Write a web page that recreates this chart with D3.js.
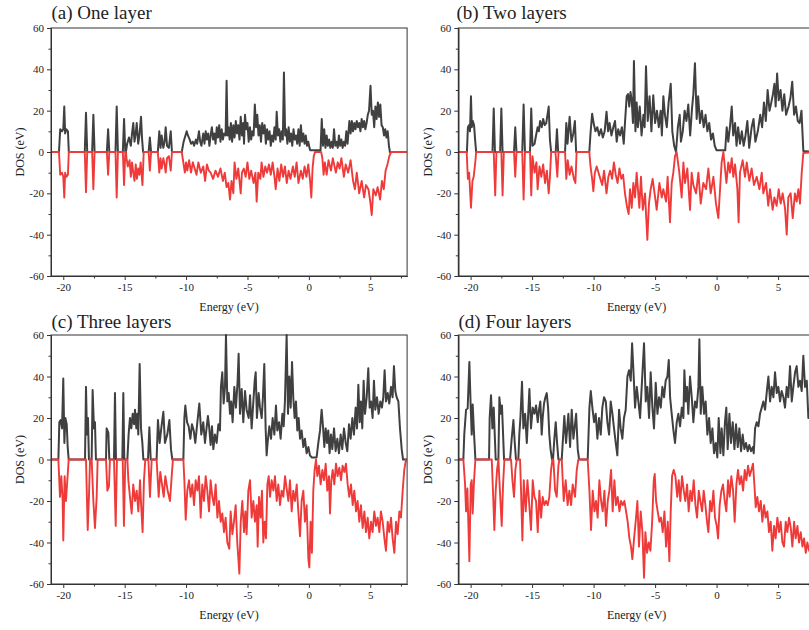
<!DOCTYPE html>
<html>
<head>
<meta charset="utf-8">
<script src="https://cdn.jsdelivr.net/npm/d3@7"></script>
<style>
  body { margin: 0; background: #fff; }
  svg { display: block; }
  text { font-family: "Liberation Serif", "Times New Roman", serif; fill: #222; }
</style>
</head>
<body>
<svg id="chart" width="809" height="630"></svg>
<script>
// Spin-resolved DOS, [energy (eV), DOS] pairs. Spin up is positive, spin down negative.
const spinUpA = [[-21,0],[-20.35,0],[-20.25,11],[-20.1,10],[-20.0,11],[-19.92,22],[-19.85,9],[-19.75,11],[-19.62,10],[-19.55,0],
[-18.25,0],[-18.15,19],[-18.05,0],[-17.65,0],[-17.55,18],[-17.45,0],
[-16.45,0],[-16.35,11],[-16.25,0],
[-15.75,0],[-15.65,22],[-15.55,0],[-15.15,0],[-15.05,16],[-14.95,0],
[-14.9,0],[-14.8,4],[-14.65,7],[-14.5,3],[-14.4,9],[-14.3,14],[-14.2,5],[-14.1,9],[-14.02,14],[-13.9,4],[-13.8,8],[-13.67,17],[-13.58,6],[-13.5,0],
[-13.05,0],[-12.95,7],[-12.85,0],
[-12.3,0],[-12.18,10],[-12.08,2],[-11.99,8],[-11.85,2],[-11.75,5],[-11.66,12],[-11.55,3],[-11.4,2],[-11.25,10],[-11.15,0],
[-10.35,0],[-10.2,5],[-10.05,8],[-9.95,10],[-9.85,8],[-9.7,6],[-9.6,4],[-9.45,5],[-9.35,3],[-9.2,6],[-9.1,4],[-8.95,10],[-8.85,5],[-8.75,3],[-8.6,9],[-8.5,4],[-8.4,10],[-8.3,6],[-8.2,9],[-8.1,3],[-8.0,8],[-7.9,12],[-7.8,6],[-7.7,9],[-7.6,4],[-7.5,12],[-7.4,7],[-7.3,13],[-7.2,5],[-7.1,11],[-7.0,6],[-6.9,9],[-6.78,8],[-6.7,34.5],[-6.62,8],[-6.55,12],[-6.45,6],[-6.35,14],[-6.25,5],[-6.15,13],[-6.05,7],[-5.95,15],[-5.85,9],[-5.75,13],[-5.65,6],[-5.55,17],[-5.45,8],[-5.35,14],[-5.28,4],[-5.2,18],[-5.1,11],[-5.0,14],[-4.9,5],[-4.8,12],[-4.7,6],[-4.6,10],[-4.5,8],[-4.4,23],[-4.3,12],[-4.2,18],[-4.1,8],[-4.0,13],[-3.9,5],[-3.8,14],[-3.7,9],[-3.6,13],[-3.5,4],[-3.4,11],[-3.3,6],[-3.2,10],[-3.1,3],[-3.0,8],[-2.9,5],[-2.8,12],[-2.7,6],[-2.62,19.5],[-2.52,8],[-2.42,11],[-2.32,5],[-2.22,10],[-2.12,6],[-2.03,38.5],[-1.93,8],[-1.85,11],[-1.75,4],[-1.65,12],[-1.55,5],[-1.45,9],[-1.35,3],[-1.25,11],[-1.15,6],[-1.05,8],[-0.95,4],[-0.85,11],[-0.75,3],[-0.65,13],[-0.55,5],[-0.45,9],[-0.35,4],[-0.25,8],[-0.15,3],[-0.05,5],[0.05,2],[0.12,0.8],[0.95,0.8],[1.05,16],[1.15,3],[1.25,11],[1.35,2],[1.45,8],[1.55,3],[1.65,6],[1.75,2],[1.85,5],[1.95,2],[2.05,11],[2.15,3],[2.25,5],[2.35,2],[2.45,8],[2.55,3],[2.65,6],[2.75,2],[2.85,5],[2.95,3],[3.05,10],[3.15,4],[3.3,15],[3.4,9],[3.5,15],[3.6,10],[3.7,14],[3.8,11],[3.9,15],[4.0,12],[4.1,14],[4.2,10],[4.3,16],[4.4,12],[4.5,15],[4.6,11],[4.7,14],[4.8,18],[4.9,20],[5.02,32],[5.12,18],[5.22,20],[5.32,12],[5.42,22],[5.52,16],[5.62,24],[5.72,17],[5.82,23],[5.92,13],[6.02,12],[6.12,8],[6.22,11],[6.32,7],[6.42,10],[6.52,3],[6.6,0],[8,0]];

const spinDownA = [[-21,0],[-20.35,0],[-20.25,-11],[-20.1,-10],[-20.0,-12],[-19.92,-22],[-19.85,-10],[-19.75,-12],[-19.62,-11],[-19.55,0],
[-18.25,0],[-18.15,-19.5],[-18.05,0],[-17.65,0],[-17.55,-18],[-17.45,0],
[-16.45,0],[-16.35,-11],[-16.25,0],
[-15.75,0],[-15.65,-22],[-15.55,0],[-15.15,0],[-15.05,-16],[-14.95,0],
[-14.9,0],[-14.85,-3],[-14.75,-7],[-14.6,-4],[-14.5,-12],[-14.4,-5],[-14.3,-10],[-14.2,-14],[-14.1,-6],[-14.0,-13],[-13.9,-8],[-13.8,-11],[-13.7,-5],[-13.55,-16],[-13.45,0],
[-13.05,0],[-12.95,-9],[-12.85,0],
[-12.3,0],[-12.18,-10],[-12.08,-3],[-11.99,-8],[-11.85,-3],[-11.75,-6],[-11.66,-10],[-11.55,-3],[-11.4,-2],[-11.25,-9],[-11.15,0],
[-10.35,0],[-10.2,-6],[-10.1,-10],[-10.0,-5],[-9.9,-9],[-9.75,-4],[-9.6,-10],[-9.45,-5],[-9.3,-8],[-9.15,-11],[-9.0,-5],[-8.8,-10],[-8.6,-7],[-8.45,-14],[-8.3,-6],[-8.15,-9],[-8.0,-10],[-7.8,-13],[-7.6,-9],[-7.4,-12],[-7.2,-8],[-7.0,-14],[-6.85,-10],[-6.7,-17],[-6.56,-15],[-6.42,-23],[-6.3,-14],[-6.15,-20],[-6.05,-5],[-5.9,-13],[-5.75,-8],[-5.55,-20],[-5.45,-10],[-5.3,-8],[-5.15,-12],[-5.0,-5],[-4.85,-13],[-4.7,-9],[-4.5,-15],[-4.35,-10],[-4.25,-24],[-4.12,-10],[-3.95,-13],[-3.85,-5],[-3.7,-12],[-3.55,-7],[-3.4,-10],[-3.25,-6],[-3.1,-11],[-2.95,-5],[-2.8,-12],[-2.7,-18],[-2.55,-8],[-2.4,-14],[-2.25,-6],[-2.1,-12],[-1.95,-7],[-1.8,-15],[-1.65,-9],[-1.5,-13],[-1.3,-7],[-1.15,-12],[-1.0,-5],[-0.85,-15],[-0.65,-9],[-0.5,-13],[-0.35,-7],[-0.2,-12],[-0.05,-6],[0.1,-14],[0.2,-22],[0.3,-8],[0.4,-2],[0.5,0],[1.0,0],[1.1,-3],[1.2,-11],[1.3,-5],[1.45,-11],[1.6,-4],[1.8,-9],[1.95,-3],[2.2,-10],[2.35,-5],[2.5,-8],[2.65,-3],[2.85,-12],[3.0,-6],[3.2,-10],[3.4,-4],[3.6,-14],[3.75,-18],[3.9,-10],[4.1,-20],[4.3,-14],[4.5,-22],[4.65,-16],[4.85,-18],[5.0,-24],[5.12,-30.5],[5.25,-18],[5.45,-21],[5.6,-17],[5.8,-23],[5.95,-14],[6.1,-18],[6.25,-9],[6.4,-6],[6.55,-2],[6.7,0],[8,0]];

const spinUpB = [[-21,0],[-20.3,0],[-20.22,12],[-20.12,13],[-20.05,10],[-19.97,27],[-19.9,12],[-19.82,15],[-19.72,13],[-19.62,5],[-19.55,0],
[-18.22,0],[-18.12,21],[-18.02,0],[-17.6,0],[-17.5,21],[-17.4,0],
[-16.47,0],[-16.37,12],[-16.27,0],
[-15.8,0],[-15.69,23],[-15.58,0],[-15.17,0],[-15.07,21],[-14.97,3],
[-14.8,4],[-14.68,8],[-14.55,12],[-14.45,10],[-14.35,15],[-14.22,12],[-14.1,16],[-13.98,13],[-13.85,14],[-13.65,22],[-13.55,6],[-13.45,0],
[-13.08,0],[-12.98,11],[-12.88,0],
[-12.32,0],[-12.22,14],[-12.12,4],[-11.95,17],[-11.8,5],[-11.65,9],[-11.52,15],[-11.42,0],
[-10.35,0],[-10.25,9],[-10.12,18.5],[-10.0,14],[-9.85,10],[-9.7,12],[-9.55,8],[-9.4,11],[-9.25,7],[-9.1,10],[-8.95,19.5],[-8.82,10],[-8.7,14],[-8.55,8],[-8.4,12],[-8.26,15],[-8.12,5],[-8.0,11],[-7.85,8],[-7.7,12],[-7.55,4],[-7.45,14],[-7.31,27],[-7.2,28],[-7.1,22],[-7.0,29],[-6.9,25],[-6.8,14],[-6.72,44],[-6.6,10],[-6.5,24],[-6.4,12],[-6.25,22],[-6.1,8],[-5.95,18],[-5.85,12],[-5.74,41.5],[-5.6,15],[-5.45,27],[-5.3,10],[-5.15,27.5],[-5.0,14],[-4.85,20],[-4.7,12],[-4.55,20],[-4.45,8],[-4.33,27],[-4.2,18],[-4.05,12],[-3.9,24],[-3.73,33],[-3.6,10],[-3.45,3],[-3.3,0],[-3.15,12],[-3.0,18],[-2.9,5],[-2.75,10],[-2.6,20],[-2.45,15],[-2.3,23],[-2.15,8],[-2.0,21],[-1.89,28],[-1.76,43],[-1.62,16],[-1.5,27],[-1.35,14],[-1.2,20],[-1.05,12],[-0.9,18],[-0.75,10],[-0.6,14],[-0.45,6],[-0.3,9],[-0.15,3],[0.0,0.8],[0.7,0.8],[0.82,12],[0.95,5],[1.1,13],[1.23,22],[1.35,8],[1.5,14],[1.62,3],[1.75,12],[1.9,4],[2.05,10],[2.2,3],[2.35,8],[2.5,15],[2.65,2],[2.85,12],[3.0,16],[3.15,5],[3.35,10],[3.55,18],[3.7,12],[3.85,24],[4.0,15],[4.15,30],[4.3,20],[4.45,24],[4.58,28],[4.7,33],[4.8,22],[4.92,38],[5.05,25],[5.2,30],[5.35,20],[5.5,28],[5.65,18],[5.85,22],[6.0,26],[6.15,34],[6.3,18],[6.45,22],[6.6,15],[6.75,14],[6.9,20],[7.05,0.5],[8,0]];

const spinDownB = [[-21,0],[-20.32,0],[-20.22,-13],[-20.12,-10],[-19.97,-27],[-19.85,-14],[-19.75,-12],[-19.62,-5],[-19.55,0],
[-18.12,0],[-18.0,-21],[-17.9,0],[-17.5,0],[-17.4,-21],[-17.3,0],
[-16.47,0],[-16.37,-12],[-16.27,0],
[-15.8,0],[-15.69,-23],[-15.58,0],[-15.17,0],[-15.07,-21],[-14.97,-2],
[-14.8,-10],[-14.65,-5],[-14.55,-18],[-14.4,-7],[-14.25,-12],[-14.1,-6],[-13.95,-15],[-13.8,-9],[-13.65,-20],[-13.55,-12],[-13.45,0],
[-13.1,0],[-12.95,-12],[-12.85,0],
[-12.32,0],[-12.22,-13],[-12.1,-4],[-11.95,-11],[-11.8,-7],[-11.6,-13],[-11.48,-15],[-11.38,0],
[-10.35,0],[-10.25,-7],[-10.12,-13],[-10.02,-19],[-9.9,-10],[-9.75,-7],[-9.6,-10],[-9.45,-13],[-9.3,-16],[-9.15,-9],[-8.95,-20],[-8.8,-12],[-8.65,-9],[-8.5,-13],[-8.35,-5],[-8.2,-11],[-8.05,-15],[-7.9,-8],[-7.75,-13],[-7.6,-11],[-7.45,-20],[-7.3,-26],[-7.15,-30],[-7.04,-18],[-6.9,-27],[-6.77,-15],[-6.63,-22],[-6.5,-10],[-6.28,-27],[-6.15,-12],[-6.0,-28],[-5.82,-20],[-5.63,-42.5],[-5.5,-25],[-5.36,-18],[-5.2,-13],[-5.0,-22],[-4.87,-28],[-4.65,-15],[-4.46,-22],[-4.33,-18],[-4.11,-24],[-3.98,-12],[-3.79,-34],[-3.65,-15],[-3.52,-10],[-3.38,-2],[-3.25,0],[-3.03,-10],[-2.84,-22],[-2.7,-5],[-2.57,-15],[-2.38,-8],[-2.16,-28],[-2.03,-10],[-1.89,-16],[-1.67,-20],[-1.48,-10],[-1.29,-25],[-1.08,-15],[-0.86,-18],[-0.67,-8],[-0.48,-20],[-0.26,-12],[-0.05,-25],[0.14,-32],[0.28,-18],[0.41,-5],[0.55,0],[0.8,-15],[0.95,-5],[1.09,-10],[1.23,-3],[1.36,-12],[1.5,-6],[1.69,-18],[1.79,-34],[1.9,-10],[2.12,-4],[2.31,-12],[2.45,-5],[2.66,-14],[2.85,-8],[3.04,-16],[3.26,-12],[3.48,-18],[3.67,-10],[3.8,-20],[4.02,-15],[4.2,-26],[4.34,-18],[4.56,-28],[4.7,-22],[4.88,-26],[5.05,-18],[5.21,-25],[5.37,-20],[5.56,-27],[5.7,-40],[5.83,-22],[6.02,-20],[6.19,-32],[6.37,-20],[6.51,-24],[6.65,-18],[6.78,-25],[6.92,-10],[7.05,-0.5],[8,0]];

const spinUpC = [[-21,0],[-20.4,0],[-20.32,18],[-20.21,19],[-20.1,15],[-20.0,39],[-19.91,8],[-19.83,20],[-19.72,17],[-19.64,6],[-19.56,0],
[-18.23,0],[-18.15,35],[-18.07,12],[-17.99,20],[-17.91,0],[-17.69,0],[-17.61,33.5],[-17.5,15],[-17.42,18],[-17.34,0],
[-16.52,0],[-16.47,15],[-16.33,13],[-16.25,0],
[-15.87,0],[-15.79,32],[-15.71,0],[-15.19,0],[-15.11,32],[-15.03,0],
[-14.78,0],[-14.68,12],[-14.57,20],[-14.46,15],[-14.35,22],[-14.24,17],[-14.16,24],[-14.05,15],[-13.97,22],[-13.89,12],[-13.78,46],[-13.67,15],[-13.56,8],[-13.48,0],
[-13.1,0],[-12.99,15.5],[-12.88,0],
[-12.4,0],[-12.29,19],[-12.15,8],[-12.02,15],[-11.85,23],[-11.72,8],[-11.53,12],[-11.36,19],[-11.23,5],[-11.12,0],
[-10.22,0],[-10.14,20],[-10.06,26],[-9.92,18],[-9.79,16],[-9.65,10],[-9.52,17],[-9.38,14],[-9.25,8],[-9.08,18],[-8.92,27],[-8.76,12],[-8.6,18],[-8.46,8],[-8.35,14],[-8.22,21],[-8.11,15],[-8.0,7],[-7.89,16],[-7.78,5],[-7.65,12],[-7.51,8],[-7.37,17],[-7.24,14],[-7.16,35],[-7.05,42],[-6.94,27],[-6.83,35],[-6.75,60],[-6.64,28],[-6.53,32],[-6.42,22],[-6.32,28],[-6.21,18],[-6.07,35],[-5.94,25],[-5.8,38],[-5.72,51],[-5.61,22],[-5.47,34],[-5.34,18],[-5.2,33],[-5.07,24],[-4.9,20],[-4.79,31],[-4.66,15],[-4.52,28],[-4.41,38],[-4.33,42],[-4.23,20],[-4.09,32],[-3.98,25],[-3.84,20],[-3.74,30],[-3.63,46],[-3.52,15],[-3.44,2],[-3.36,8],[-3.22,16],[-3.08,10],[-2.95,20],[-2.81,12],[-2.68,26],[-2.57,14],[-2.43,18],[-2.3,10],[-2.16,22],[-2.05,16],[-1.95,28],[-1.81,60],[-1.7,22],[-1.59,40],[-1.48,25],[-1.37,47],[-1.27,30],[-1.16,20],[-1.05,28],[-0.94,14],[-0.83,20],[-0.72,10],[-0.59,14],[-0.45,6],[-0.32,10],[-0.18,3],[-0.04,6],[0.09,2],[0.23,1],[0.63,1],[0.77,8],[0.91,14],[1.04,24],[1.15,16],[1.26,6],[1.37,15],[1.48,8],[1.58,14],[1.69,3],[1.8,12],[1.91,5],[2.05,15],[2.18,4],[2.32,10],[2.45,3],[2.59,12],[2.72,5],[2.86,15],[3.0,8],[3.13,4],[3.27,17],[3.4,10],[3.54,20],[3.67,12],[3.81,25],[3.92,15],[4.03,36],[4.14,18],[4.24,28],[4.35,15],[4.46,38],[4.57,22],[4.71,30],[4.84,44],[4.95,25],[5.06,28],[5.19,20],[5.3,38],[5.41,24],[5.55,30],[5.68,22],[5.82,28],[5.95,25],[6.06,30],[6.17,43],[6.28,28],[6.42,32],[6.55,27],[6.69,35],[6.82,30],[6.93,45],[7.04,33],[7.15,30],[7.29,28],[7.42,15],[7.56,5],[7.67,0],[8,0]];

const spinDownC = [[-21,0],[-20.4,0],[-20.27,-18],[-20.16,-8],[-20.05,-20],[-20.0,-39],[-19.89,-8],[-19.78,-20],[-19.67,-10],[-19.56,0],
[-18.15,0],[-18.01,-34],[-17.91,-18],[-17.82,0],[-17.69,0],[-17.55,-20],[-17.42,-33],[-17.28,-18],[-17.2,0],
[-16.52,0],[-16.41,-15],[-16.28,-13],[-16.2,0],
[-15.87,0],[-15.73,-32],[-15.63,0],[-15.16,0],[-15.06,-32],[-14.95,0],
[-14.78,0],[-14.7,-10],[-14.57,-18],[-14.43,-26],[-14.3,-12],[-14.16,-20],[-14.02,-15],[-13.89,-25],[-13.75,-10],[-13.66,-22],[-13.54,-35],[-13.43,-10],[-13.32,0],
[-13.07,0],[-12.94,-18],[-12.8,0],
[-12.4,0],[-12.23,-18],[-12.1,-6],[-11.96,-12],[-11.82,-18],[-11.69,-8],[-11.5,-15],[-11.31,-20],[-11.17,-8],[-11.07,0],
[-10.22,0],[-10.14,-10],[-10.03,-29],[-9.9,-15],[-9.76,-10],[-9.63,-18],[-9.49,-12],[-9.35,-22],[-9.22,-10],[-9.08,-15],[-8.95,-8],[-8.81,-28],[-8.68,-12],[-8.54,-20],[-8.4,-8],[-8.27,-15],[-8.13,-25],[-8.0,-10],[-7.86,-18],[-7.73,-22],[-7.59,-12],[-7.45,-28],[-7.32,-20],[-7.18,-30],[-7.05,-26],[-6.91,-35],[-6.78,-28],[-6.64,-40],[-6.48,-43],[-6.37,-25],[-6.23,-36],[-6.1,-30],[-5.96,-22],[-5.83,-40],[-5.66,-55],[-5.55,-30],[-5.42,-20],[-5.28,-35],[-5.17,-25],[-5.07,-36],[-4.93,-15],[-4.79,-10],[-4.66,-28],[-4.52,-20],[-4.39,-30],[-4.25,-22],[-4.17,-42],[-4.06,-18],[-3.93,-28],[-3.82,-15],[-3.71,-40],[-3.6,-30],[-3.49,-38],[-3.38,-12],[-3.27,-8],[-3.16,-18],[-3.03,-10],[-2.89,-15],[-2.76,-8],[-2.62,-20],[-2.49,-12],[-2.35,-22],[-2.22,-15],[-2.08,-18],[-1.94,-8],[-1.81,-14],[-1.67,-20],[-1.54,-10],[-1.4,-25],[-1.27,-15],[-1.13,-20],[-0.99,-12],[-0.86,-25],[-0.72,-37],[-0.59,-20],[-0.45,-15],[-0.32,-30],[-0.18,-22],[-0.04,-48],[0.04,-52],[0.14,-30],[0.25,-45],[0.36,-15],[0.47,-5],[0.58,0],[0.69,-8],[0.82,-3],[0.96,-12],[1.1,-5],[1.23,-10],[1.37,-2],[1.5,-15],[1.64,-8],[1.72,-26],[1.83,-10],[1.94,-5],[2.07,-12],[2.21,-2],[2.34,-8],[2.48,-4],[2.62,-10],[2.75,-3],[2.89,-6],[3.02,-2],[3.16,-12],[3.29,-18],[3.43,-12],[3.57,-22],[3.7,-15],[3.84,-25],[3.97,-20],[4.11,-30],[4.24,-22],[4.38,-33],[4.52,-25],[4.65,-35],[4.79,-28],[4.92,-38],[5.06,-30],[5.19,-35],[5.33,-25],[5.47,-32],[5.6,-28],[5.74,-35],[5.87,-25],[6.01,-30],[6.15,-38],[6.28,-44],[6.42,-30],[6.55,-35],[6.69,-28],[6.82,-38],[6.96,-45],[7.1,-30],[7.23,-36],[7.37,-25],[7.5,-28],[7.64,-15],[7.77,-5],[7.91,0],[8,0]];

const spinUpD = [[-21,0],[-20.59,0],[-20.51,12.5],[-20.37,24],[-20.24,24.6],[-20.1,47],[-19.99,25],[-19.91,12],[-19.83,26.5],[-19.72,12.5],[-19.61,0],
[-18.5,0],[-18.45,20],[-18.34,31],[-18.23,15],[-18.12,25],[-17.96,0],[-17.74,0],[-17.66,30],[-17.53,22],[-17.45,26],[-17.28,0],
[-16.79,0],[-16.66,10],[-16.52,19],[-16.41,8],[-16.31,0],
[-16.12,0],[-16.04,12],[-15.95,20],[-15.82,37.5],[-15.71,15],[-15.57,22],[-15.43,8],[-15.22,34],[-15.09,15],[-14.95,25],[-14.81,22],[-14.68,26],[-14.54,18],[-14.44,24],[-14.33,28],[-14.22,12],[-14.14,20],[-14.03,27],[-13.92,30],[-13.81,32],[-13.7,25],[-13.6,12],[-13.5,5],[-13.38,0],
[-13.3,0],[-13.19,10],[-13.08,18],[-12.97,8],[-12.86,0],
[-12.59,0],[-12.38,21],[-12.24,8],[-12.05,22],[-11.91,6],[-11.78,24],[-11.64,10],[-11.42,22],[-11.29,5],[-11.18,0],
[-10.48,0],[-10.34,25],[-10.23,33],[-10.1,25],[-9.96,18],[-9.83,22],[-9.69,10],[-9.56,20],[-9.42,12],[-9.29,25],[-9.15,30],[-9.01,28],[-8.88,18],[-8.74,12],[-8.61,28],[-8.47,22],[-8.34,15],[-8.2,8],[-8.07,2],[-7.93,24],[-7.8,15],[-7.66,10],[-7.53,20],[-7.39,24],[-7.25,40],[-7.12,43],[-6.98,38],[-6.87,56],[-6.74,40],[-6.63,25],[-6.49,35],[-6.36,28],[-6.22,20],[-6.09,35],[-5.9,56],[-5.76,28],[-5.63,35],[-5.49,20],[-5.36,42],[-5.22,25],[-5.09,15],[-4.95,37],[-4.81,22],[-4.68,30],[-4.54,25],[-4.41,35],[-4.27,30],[-4.14,38],[-4.0,40],[-3.89,48],[-3.78,30],[-3.65,22],[-3.51,14],[-3.38,8],[-3.24,18],[-3.11,22],[-2.97,16],[-2.83,25],[-2.7,20],[-2.62,43],[-2.51,28],[-2.4,35],[-2.3,22],[-2.16,40],[-2.02,30],[-1.89,18],[-1.75,28],[-1.62,25],[-1.48,35],[-1.4,58],[-1.29,22],[-1.16,35],[-1.02,22],[-0.89,28],[-0.75,12],[-0.61,20],[-0.48,8],[-0.34,15],[-0.21,3],[-0.07,8],[0.06,1],[0.17,20],[0.31,3],[0.41,15],[0.55,2],[0.68,18],[0.79,25],[0.9,5],[1.04,22],[1.17,8],[1.31,18],[1.45,5],[1.58,17],[1.72,6],[1.85,15],[1.99,4],[2.12,12],[2.26,5],[2.39,8],[2.53,4],[2.66,7],[2.8,4],[2.94,6],[3.02,3],[3.13,15],[3.26,18],[3.4,16],[3.53,22],[3.67,25],[3.8,28],[3.94,24],[4.07,32],[4.21,40],[4.35,28],[4.48,35],[4.62,30],[4.75,42],[4.89,32],[5.02,35],[5.16,28],[5.29,33],[5.43,30],[5.56,25],[5.7,35],[5.83,30],[5.97,45],[6.11,28],[6.24,35],[6.38,42],[6.51,45],[6.65,35],[6.78,38],[6.92,33],[7.05,50],[7.19,35],[7.33,38],[7.46,20],[7.6,22],[8,18]];

const spinDownD = [[-21,0],[-20.59,0],[-20.45,-12],[-20.37,-25],[-20.26,-14],[-20.1,-49],[-19.99,-12],[-19.91,-10],[-19.83,-26],[-19.72,-10],[-19.61,0],
[-18.28,0],[-18.15,-20],[-18.07,-34],[-17.96,-15],[-17.85,-5],[-17.74,0],[-17.66,-10],[-17.47,-32],[-17.36,-12],[-17.25,0],
[-16.71,0],[-16.6,-10],[-16.47,-18],[-16.36,-5],[-16.25,0],
[-15.98,0],[-15.9,-15],[-15.79,-39],[-15.68,-10],[-15.52,-25],[-15.38,-10],[-15.25,-20],[-15.09,-34],[-14.95,-10],[-14.81,-18],[-14.68,-20],[-14.54,-35],[-14.41,-15],[-14.27,-28],[-14.14,-18],[-14.0,-22],[-13.87,-20],[-13.73,-22],[-13.6,-18],[-13.46,-5],[-13.35,0],
[-13.27,0],[-13.13,-15],[-13.0,-18],[-12.86,-3],[-12.78,0],
[-12.59,0],[-12.43,-20],[-12.27,-10],[-12.11,-22],[-11.97,-15],[-11.83,-22],[-11.7,-12],[-11.51,-18],[-11.37,-5],[-11.24,0],
[-10.48,0],[-10.34,-15],[-10.21,-34],[-10.07,-15],[-9.93,-25],[-9.8,-20],[-9.67,-28],[-9.53,-10],[-9.39,-20],[-9.26,-25],[-9.12,-15],[-8.99,-32],[-8.85,-20],[-8.72,-15],[-8.58,-5],[-8.45,-25],[-8.31,-10],[-8.18,-22],[-8.04,-18],[-7.9,-25],[-7.77,-20],[-7.63,-22],[-7.5,-20],[-7.36,-25],[-7.23,-30],[-7.09,-38],[-6.96,-42],[-6.85,-48],[-6.71,-38],[-6.58,-30],[-6.44,-20],[-6.31,-42],[-6.17,-25],[-6.03,-35],[-5.9,-57],[-5.79,-35],[-5.65,-45],[-5.52,-40],[-5.38,-44],[-5.24,-30],[-5.11,-10],[-5.03,-7],[-4.92,-20],[-4.79,-25],[-4.65,-30],[-4.52,-28],[-4.38,-35],[-4.24,-25],[-4.11,-42],[-3.97,-30],[-3.84,-49],[-3.73,-25],[-3.62,-8],[-3.49,-5],[-3.35,-8],[-3.2,-18],[-3.08,-10],[-2.95,-20],[-2.81,-8],[-2.67,-15],[-2.54,-20],[-2.4,-12],[-2.27,-25],[-2.13,-15],[-2.0,-20],[-1.86,-10],[-1.72,-22],[-1.59,-28],[-1.45,-15],[-1.32,-20],[-1.18,-25],[-1.05,-15],[-0.91,-22],[-0.78,-30],[-0.67,-35],[-0.53,-20],[-0.4,-25],[-0.26,-15],[-0.13,-28],[0.01,-32],[0.12,-38],[0.25,-22],[0.39,-15],[0.52,-12],[0.66,-20],[0.79,-25],[0.93,-10],[1.06,-18],[1.2,-8],[1.34,-15],[1.47,-30],[1.61,-12],[1.74,-5],[1.88,-12],[2.01,-8],[2.15,-15],[2.29,-5],[2.42,-10],[2.56,-3],[2.69,-8],[2.83,-5],[2.96,-2],[3.07,-12],[3.18,-23],[3.31,-18],[3.45,-25],[3.59,-20],[3.72,-30],[3.86,-22],[3.99,-28],[4.13,-25],[4.26,-35],[4.4,-30],[4.53,-44],[4.67,-32],[4.8,-38],[4.94,-28],[5.08,-35],[5.21,-30],[5.35,-40],[5.48,-42],[5.62,-30],[5.75,-35],[5.89,-28],[6.03,-33],[6.16,-42],[6.3,-30],[6.43,-38],[6.57,-32],[6.7,-40],[6.84,-35],[6.98,-42],[7.11,-38],[7.25,-45],[7.38,-40],[7.52,-44],[7.7,-40],[8,-42]];

const panelTitles = ["(a) One layer", "(b) Two layers", "(c) Three layers", "(d) Four layers"];
const xMajorTicks = [-20, -15, -10, -5, 0, 5];
const xMinorTicks = [-17.5, -12.5, -7.5, -2.5, 2.5, 7.5];
const yMajorTicks = [-60, -40, -20, 0, 20, 40, 60];
const yMinorTicks = [-50, -30, -10, 10, 30, 50];
const xLabel = "Energy (eV)";
const yLabel = "DOS (eV)";

const energyDomain = [-21, 8];
const dosDomain = [-60, 60];
const upColor = "#404040";
const downColor = "#ef3a3a";
const axisColor = "#333";

// Plot-area frames for the 2x2 grid
const frames = [
  { left: 51,    top: 28,  width: 356.1, height: 248, titleX: 51.5, titleY: 18.5, yLabelX: 24 },
  { left: 458.3, top: 28,  width: 356.7, height: 248, titleX: 456.5, titleY: 18.5, yLabelX: 431.5 },
  { left: 51,    top: 335, width: 356.1, height: 249, titleX: 51.5, titleY: 328.3, yLabelX: 24 },
  { left: 458.3, top: 335, width: 356.7, height: 249, titleX: 458.5, titleY: 328.3, yLabelX: 431.5 }
];
const series = [[spinUpA, spinDownA], [spinUpB, spinDownB], [spinUpC, spinDownC], [spinUpD, spinDownD]];

// Plain hyphen-minus tick labels
const tickText = d => String(d);

const svg = d3.select("#chart");

frames.forEach((f, i) => {
  const x = d3.scaleLinear().domain(energyDomain).range([0, f.width]);
  const y = d3.scaleLinear().domain(dosDomain).range([f.height, 0]);
  const g = svg.append("g").attr("transform", `translate(${f.left},${f.top})`);

  const clipId = "clip" + i;
  g.append("clipPath").attr("id", clipId)
    .append("rect").attr("x", 0).attr("y", -1).attr("width", f.width).attr("height", f.height + 2);

  const line = d3.line().x(d => x(d[0])).y(d => y(d[1]));
  const plot = g.append("g").attr("clip-path", `url(#${clipId})`);
  plot.append("path").datum(series[i][0])
    .attr("fill", "none").attr("stroke", upColor).attr("stroke-width", 2)
    .attr("stroke-linejoin", "round").attr("d", line);
  plot.append("path").datum(series[i][1])
    .attr("fill", "none").attr("stroke", downColor).attr("stroke-width", 1.9)
    .attr("stroke-linejoin", "round").attr("d", line);

  // Frame
  g.append("rect").attr("x", 0).attr("y", 0).attr("width", f.width).attr("height", f.height)
    .attr("fill", "none").attr("stroke", axisColor).attr("stroke-width", 1);

  // Bottom axis
  g.append("g").attr("transform", `translate(0,${f.height})`)
    .call(d3.axisBottom(x).tickValues(xMajorTicks).tickSize(4).tickSizeOuter(0).tickPadding(3)
      .tickFormat(tickText));
  g.append("g").attr("transform", `translate(0,${f.height})`)
    .call(d3.axisBottom(x).tickValues(xMinorTicks).tickSize(2.5).tickSizeOuter(0).tickFormat(""));

  // Left axis
  g.append("g").call(d3.axisLeft(y).tickValues(yMajorTicks).tickSize(4).tickSizeOuter(0).tickPadding(3)
      .tickFormat(tickText));
  g.append("g").call(d3.axisLeft(y).tickValues(yMinorTicks).tickSize(2.5).tickSizeOuter(0).tickFormat(""));

  g.selectAll(".domain").attr("stroke", axisColor);
  g.selectAll(".tick line").attr("stroke", axisColor);
  g.selectAll(".tick text").attr("fill", "#222")
    .style("font-family", "'Liberation Serif', 'Times New Roman', serif").style("font-size", "11px");

  // Titles and axis labels
  svg.append("text").attr("x", f.titleX).attr("y", f.titleY)
    .style("font-size", "19px").text(panelTitles[i]);
  svg.append("text").attr("x", f.left + f.width / 2).attr("y", f.top + f.height + 35)
    .attr("text-anchor", "middle").style("font-size", "12px").text(xLabel);
  svg.append("text")
    .attr("transform", `translate(${f.yLabelX},${f.top + f.height / 2}) rotate(-90)`)
    .attr("text-anchor", "middle").style("font-size", "12px").text(yLabel);
});
</script>
</body>
</html>
